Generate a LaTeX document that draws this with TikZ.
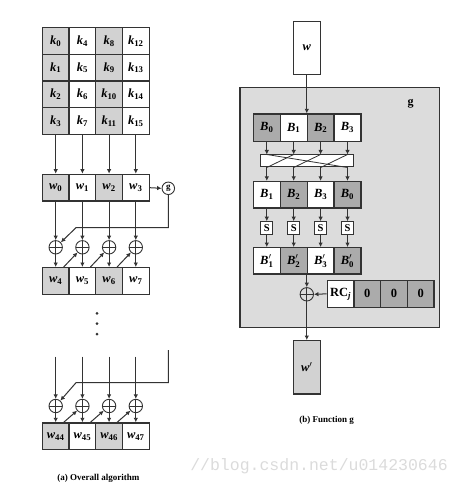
\documentclass[tikz,border=0pt]{standalone}
\usepackage{fontspec}
\usepackage{amsmath}
\setmainfont{Liberation Serif}
\setmonofont{Liberation Mono}
\usetikzlibrary{arrows.meta,calc}
\definecolor{lgray}{HTML}{D2D2D2}
\definecolor{bgray}{HTML}{DCDCDC}
\definecolor{dgray}{HTML}{ABABAB}
\definecolor{ink}{HTML}{333333}
\newcommand{\klab}[2]{$\text{\bfseries\itshape #1}_{\text{\bfseries #2}}$}
\newcommand{\kplab}[2]{$\text{\bfseries\itshape #1}'_{\text{\bfseries #2}}$}
\tikzset{
  cellL/.style={draw=ink, line width=1.3pt, minimum width=26.7pt, minimum height=26.7pt, inner sep=0pt, font=\fontsize{12.5}{14}\selectfont, fill=white},
  cellR/.style={cellL, minimum width=26.9pt, minimum height=27pt},
  sbox/.style={draw=ink, line width=1pt, fill=white, minimum width=12pt, minimum height=12.6pt, inner sep=0pt, font=\bfseries\fontsize{10.5}{11}\selectfont},
  xor/.style={circle, draw=ink, line width=0.9pt, minimum size=13.4pt, inner sep=0pt,
    path picture={\draw[ink, line width=0.9pt] (path picture bounding box.north) -- (path picture bounding box.south) (path picture bounding box.west) -- (path picture bounding box.east);}},
  arr/.style={-{Latex[length=4.5pt,width=4.5pt]}, draw=ink, line width=1pt},
  wire/.style={draw=ink, line width=0.8pt},
  dotn/.style={circle, fill=ink, minimum size=3pt, inner sep=0pt},
  capt/.style={font=\bfseries\fontsize{9}{10}\selectfont}
}
\begin{document}
\begin{tikzpicture}[x=1pt,y=-1pt]
\useasboundingbox (0,0) rectangle (460,486);
% ---------- (a) overall algorithm ----------
\foreach \c in {0,1,2,3}{
  \pgfmathsetmacro\xx{55.7+26.7*\c}
  \pgfmathtruncatemacro\pp{mod(\c,2)}
  \ifnum\pp=0 \def\fc{lgray}\else\def\fc{white}\fi
  \foreach \r in {0,1,2,3}{
    \pgfmathtruncatemacro\kk{4*\c+\r}
    \pgfmathsetmacro\yy{41+26.7*\r}
    \node[cellL, fill=\fc] (k\kk) at (\xx,\yy) {\klab{k}{\kk}};
  }
  \pgfmathtruncatemacro\wa{4+\c}
  \pgfmathtruncatemacro\wb{44+\c}
  \node[cellL, fill=\fc] (w\c) at (\xx,187.7) {\klab{w}{\c}};
  \node[xor] (xa\c) at (\xx,247.3) {};
  \node[cellL, fill=\fc] (w\wa) at (\xx,281) {\klab{w}{\wa}};
  \coordinate (t\c) at (\xx,356.7);
  \node[xor] (xb\c) at (\xx,406) {};
  \node[cellL, fill=\fc] (w\wb) at (\xx,436.3) {\klab{w}{\wb}};
}
\foreach \c in {0,1,2,3}{
  \pgfmathtruncatemacro\kb{4*\c+3}
  \pgfmathtruncatemacro\wa{4+\c}
  \pgfmathtruncatemacro\wb{44+\c}
  \draw[arr] (k\kb.south) -- (w\c.north);
  \draw[arr] (w\c.south) -- (xa\c.north);
  \draw[arr] (xa\c.south) -- (w\wa.north);
  \draw[arr] (t\c) -- (xb\c.north);
  \draw[arr] (xb\c.south) -- (w\wb.north);
}
\foreach \c in {0,1,2}{
  \pgfmathtruncatemacro\cn{\c+1}
  \pgfmathtruncatemacro\wa{4+\c}
  \pgfmathtruncatemacro\wb{44+\c}
  \draw[arr] ($(w\wa.north east)+(-6,0)$) -- (xa\cn);
  \draw[arr] ($(w\wb.north east)+(-6,0)$) -- (xb\cn);
}
\node[circle, draw=ink, line width=0.9pt, minimum size=12.5pt, inner sep=0pt, font=\bfseries\fontsize{9}{9}\selectfont] (g) at (168.3,188.3) {g};
\draw[arr] (w3.east) -- (g.west);
\coordinate (fa) at (168.3,227.7);
\coordinate (fb) at (76,227.7);
\draw[arr] (g.south) -- (fa) -- (fb) -- (xa0);
\coordinate (fc) at (168.3,350);
\coordinate (fd) at (168.3,382.7);
\coordinate (fe) at (76,382.7);
\draw[arr] (fc) -- (fd) -- (fe) -- (xb0);
\node[dotn] (d1) at (97,313.3) {};
\node[dotn] (d2) at (97,323.5) {};
\node[dotn] (d3) at (97,334) {};
\node[capt] (capa) at (98.3,478.3) {(a) Overall algorithm};
% ---------- (b) function g ----------
\node[draw=ink, line width=1.3pt, fill=bgray, minimum width=199.3pt, minimum height=239.6pt, inner sep=0pt] (gbox) at (339.65,207.5) {};
\node[cellL, minimum width=27pt, minimum height=52.6pt] (win) at (306.8,48) {\bfseries\itshape w};
\node[font=\bfseries\fontsize{12}{13}\selectfont] (glab) at (410.7,104) {g};
\node[draw=ink, line width=1pt, fill=white, minimum width=93.5pt, minimum height=12pt, inner sep=0pt] (perm) at (306.9,161) {};
\foreach \c/\lb/\lc/\fa/\fb in {0/0/1/dgray/white, 1/1/2/white/dgray, 2/2/3/dgray/white, 3/3/0/white/dgray}{
  \pgfmathsetmacro\xx{266.8+26.9*\c}
  \node[cellR, fill=\fa, minimum height=27.7pt] (ba\c) at (\xx,127.85) {\klab{B}{\lb}};
  \node[cellR, fill=\fb, minimum height=26.5pt] (bb\c) at (\xx,194.75) {\klab{B}{\lc}};
  \node[sbox] (s\c) at (\xx,228) {S};
  \node[cellR, fill=\fb, minimum height=26.3pt] (bc\c) at (\xx,260.85) {\kplab{B}{\lc}};
}
\foreach \c in {0,1,2,3}{
  \pgfmathtruncatemacro\dd{mod(\c+3,4)}
  \draw[arr] (ba\c.south) -- (ba\c.south |- perm.north);
  \draw[arr] (ba\c.south |- perm.south) -- (bb\c.north);
  \draw[wire] (ba\c.south |- perm.north) -- (bb\dd.north |- perm.south);
  \draw[arr] (bb\c.south) -- (s\c.north);
  \draw[arr] (s\c.south) -- (bc\c.north);
}
\draw[arr] (win.south) -- (win.south |- ba0.north);
\node[xor] (xg) at (306.8,294.3) {};
\draw[arr] (win.south |- bc0.south) -- (xg.north);
\node[cellL, fill=white] (rc0) at (340.65,293.85) {\textbf{RC}$_{\text{\bfseries\itshape j}}$};
\node[cellL, fill=dgray] (rc1) at (367.35,293.85) {\textbf{0}};
\node[cellL, fill=dgray] (rc2) at (394.05,293.85) {\textbf{0}};
\node[cellL, fill=dgray] (rc3) at (420.75,293.85) {\textbf{0}};
\draw[arr] (rc0.west) -- (xg.east);
\node[cellL, fill=lgray, minimum width=27pt, minimum height=53.3pt] (wout) at (306.8,367.35) {$\text{\bfseries\itshape w}'$};
\draw[arr] (xg.south) -- (wout.north);
\node[capt] (capb) at (326.7,420) {(b) Function g};
\node[font=\ttfamily\fontsize{16.5}{17}\selectfont, text=black!14] (wm) at (319,466) {//blog.csdn.net/u014230646};
\end{tikzpicture}
\end{document}
